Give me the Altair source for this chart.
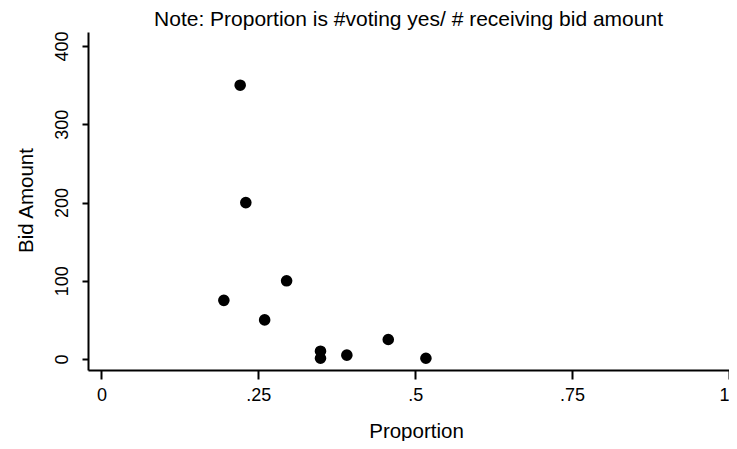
import altair as alt
import pandas as pd

proportion = [0.221, 0.230, 0.295, 0.195, 0.260, 0.349, 0.349, 0.391, 0.457, 0.517]
bid_amount = [350, 200, 100, 75, 50, 10, 1, 5, 25, 1]

df = pd.DataFrame({"Proportion": proportion, "Bid Amount": bid_amount})

x_ticks = [0, 0.25, 0.5, 0.75, 1]
y_ticks = [0, 100, 200, 300, 400]

FONT = "Liberation Sans"

chart = alt.Chart(df).mark_circle(size=135, color="black", opacity=1).encode(
    x=alt.X(
        "Proportion:Q",
        scale=alt.Scale(domain=[-0.0215, 1.0], nice=False, zero=False),
        axis=alt.Axis(
            values=x_ticks,
            labelExpr="datum.value == 0 ? '0' : datum.value == 1 ? '1' : replace(format(datum.value, '.2~f'), '0.', '.')",
            grid=False,
            domainColor="black",
            domainWidth=2,
            tickColor="black",
            tickWidth=2,
            tickSize=9,
            labelFont=FONT,
            labelFontSize=18,
            labelColor="black",
            labelPadding=7,
            labelBaseline="top",
            labelFlush=True,
            title="Proportion",
            titleFont=FONT,
            titleFontSize=20.5,
            titleFontWeight="normal",
            titleColor="black",
            titleBaseline="alphabetic",
            titleX=328,
            titleY=67,
            titleAlign="center",
        ),
    ),
    y=alt.Y(
        "Bid Amount:Q",
        scale=alt.Scale(domain=[-14, 418], nice=False, zero=False),
        axis=alt.Axis(
            values=y_ticks,
            grid=False,
            domainColor="black",
            domainWidth=2,
            tickColor="black",
            tickWidth=2,
            tickSize=6,
            labelFont=FONT,
            labelFontSize=18,
            labelColor="black",
            labelAngle=270,
            labelAlign="center",
            labelBaseline="bottom",
            labelPadding=11,
            labelFlush=False,
            title="Bid Amount",
            titleFont=FONT,
            titleFontSize=20.5,
            titleFontWeight="normal",
            titleColor="black",
            titleAngle=270,
            titleBaseline="alphabetic",
            titleAlign="center",
            titleX=-56,
            titleY=168,
        ),
    ),
).properties(
    width=641,
    height=338,
    title=alt.TitleParams(
        "Note: Proportion is #voting yes/ # receiving bid amount",
        font=FONT,
        fontSize=21,
        fontWeight="normal",
        color="black",
        anchor="middle",
        offset=1,
    ),
    autosize="none",
    padding={"left": 80, "top": 24, "right": 0, "bottom": 71},
).configure_view(stroke=None)

chart.save("out.html", embed_options={"renderer": "svg", "actions": False})
